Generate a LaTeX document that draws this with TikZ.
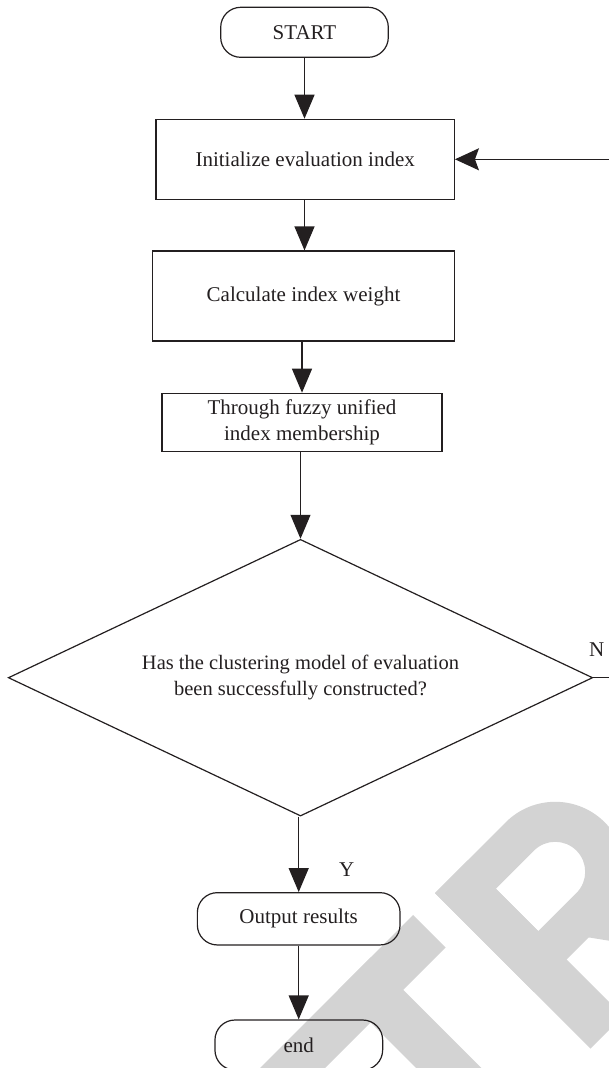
\documentclass[tikz,border=0pt]{standalone}
\usepackage{fontspec}
\setmainfont{Liberation Serif}
\usetikzlibrary{shapes.geometric,arrows.meta}
\definecolor{ink}{HTML}{231F20}
\definecolor{wmark}{RGB}{211,211,211}
\begin{document}
\begin{tikzpicture}[x=1pt,y=-1pt,
  every node/.style={font=\fontsize{21}{26}\selectfont, text=ink, inner sep=0pt},
  line/.style={draw=ink, line width=1.2pt},
  arr/.style={line, -{Triangle[length=24pt,width=20pt]}},
  backarr/.style={line, -{Stealth[length=24pt,width=22pt,inset=4pt]}},
  term/.style={line, rectangle, rounded corners=20pt},
  proc/.style={line, rectangle},
  decision/.style={line, diamond, aspect=2.112},
  lbl/.style={}
]
\useasboundingbox (0,0) rectangle (609,1068);
\clip (0,0) rectangle (609,1068);

% diagonal watermark letters (behind the chart)
\begin{scope}[shift={(435,893)}, rotate=45]
  \fill[wmark] (-300,0) rectangle (-31,46);          % bar of T
  \fill[wmark] (-137,0) rectangle (-91,220);         % stem of T
  \fill[wmark] (0,0) rectangle (46,220);             % stem of R
  \fill[wmark,even odd rule]
    (0,0) -- (100,0) arc[start angle=-90, end angle=90, radius=70] -- (0,140) -- cycle
    (46,40) -- (100,40) arc[start angle=-90, end angle=90, radius=30] -- (46,100) -- cycle;
  \fill[wmark] (70,130) -- (120,130) -- (190,220) -- (135,220) -- cycle; % leg of R
\end{scope}

% nodes
\node[term, minimum width=167.6pt, minimum height=50pt] (start) at (304.5,32.3) {START};
\node[proc, minimum width=298.3pt, minimum height=80pt] (init) at (305.2,159.3) {Initialize evaluation index};
\node[proc, minimum width=301.6pt, minimum height=90pt] (weight) at (303.5,296) {Calculate index weight};
\node[proc, minimum width=280pt, minimum height=58.4pt, align=center] (fuzzy) at (302,422.5)
  {Through fuzzy unified\\index membership};
\node[decision, minimum width=584.4pt, minimum height=276.7pt, align=center,
      font=\fontsize{20.5}{26}\selectfont] (dec) at (300.5,677.7)
  {Has the clustering model of evaluation\\been successfully constructed?};
\node[term, minimum width=202.7pt, minimum height=52.3pt] (out) at (298.7,918.8) {Output results};
\node[term, minimum width=167.7pt, minimum height=50pt] (end) at (298.8,1045) {end};

% branch labels
\node[lbl] (nlab) at (596.7,650) {N};
\node[lbl] (ylab) at (346.7,870) {Y};

% loop-back route runs outside the frame
\coordinate (loop) at (630,0);

% connectors
\draw[arr] (start.south) -- (start.south |- init.north);
\draw[arr] (init.south -| start.south) -- (start.south |- weight.north);
\draw[arr] (weight.south -| fuzzy.north) -- (fuzzy.north);
\draw[arr] (dec.north |- fuzzy.south) -- (dec.north);
\draw[arr] (dec.south -| out.north) -- (out.north);
\draw[arr] (out.south) -- (out.south |- end.north);
\draw[backarr] (dec.east) -- (dec.east -| loop) |- (init.east);
\end{tikzpicture}
\end{document}
